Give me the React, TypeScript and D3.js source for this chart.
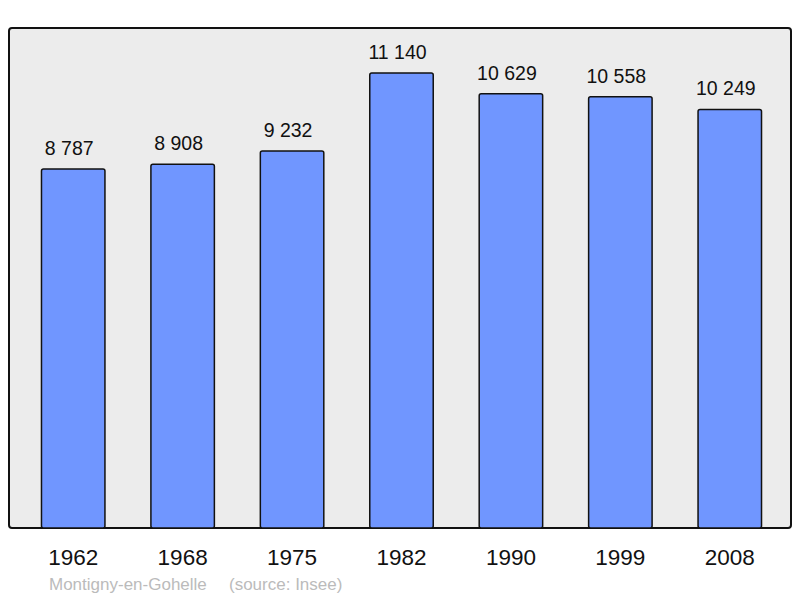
import React from 'react';
import * as d3 from 'd3';

const YEARS = ['1962', '1968', '1975', '1982', '1990', '1999', '2008'];
const POPULATION = [8787, 8908, 9232, 11140, 10629, 10558, 10249];
const TOWN = 'Montigny-en-Gohelle';
const SOURCE = '(source: Insee)';

const width = 800;
const height = 598;
const panelLeft = 9;
const panelTop = 28;
const panelRight = 791;
const panelBottom = 528;

const x = d3.scaleBand()
  .domain(YEARS)
  .range([18.5, 784.5])
  .paddingInner(0.42)
  .paddingOuter(0.21);

const y = d3.scaleLinear()
  .domain([0, 11140])
  .range([panelBottom, 73]);

const fmt = (v: number) => d3.format(',')(v).replace(/,/g, ' ');

const App = () => {
  const font = 'Liberation Sans, Arial, sans-serif';
  return (
    <svg width={width} height={height}
      style={{ position: 'absolute', left: 0, top: 0 }}
      viewBox={`0 0 ${width} ${height}`}>
      <rect x={0} y={0} width={width} height={height} fill="#fff" />
      <rect x={panelLeft} y={panelTop}
        width={panelRight - panelLeft} height={panelBottom - panelTop}
        rx={3} fill="#ececec" stroke="#111" strokeWidth={2} />
      {YEARS.map((yr, i) => (
        <g key={yr}>
          <rect x={x(yr)} y={y(POPULATION[i])}
            width={x.bandwidth()} height={panelBottom - y(POPULATION[i])}
            rx={2} fill="#7096ff" stroke="#111" strokeWidth={1.5} />
          <text x={x(yr)! + x.bandwidth() / 2 - 4} y={y(POPULATION[i]) - 14}
            textAnchor="middle" fontSize={19.5} fontFamily={font} fill="#111">
            {fmt(POPULATION[i])}
          </text>
          <text x={x(yr)! + x.bandwidth() / 2} y={565}
            textAnchor="middle" fontSize={22.5} fontFamily={font} fill="#111">
            {yr}
          </text>
        </g>
      ))}
      <text x={49} y={590} fontSize={17} fontFamily={font} fill="#bbb">{TOWN}</text>
      <text x={229} y={590} fontSize={17} fontFamily={font} fill="#bbb">{SOURCE}</text>
    </svg>
  );
};

export default App;
